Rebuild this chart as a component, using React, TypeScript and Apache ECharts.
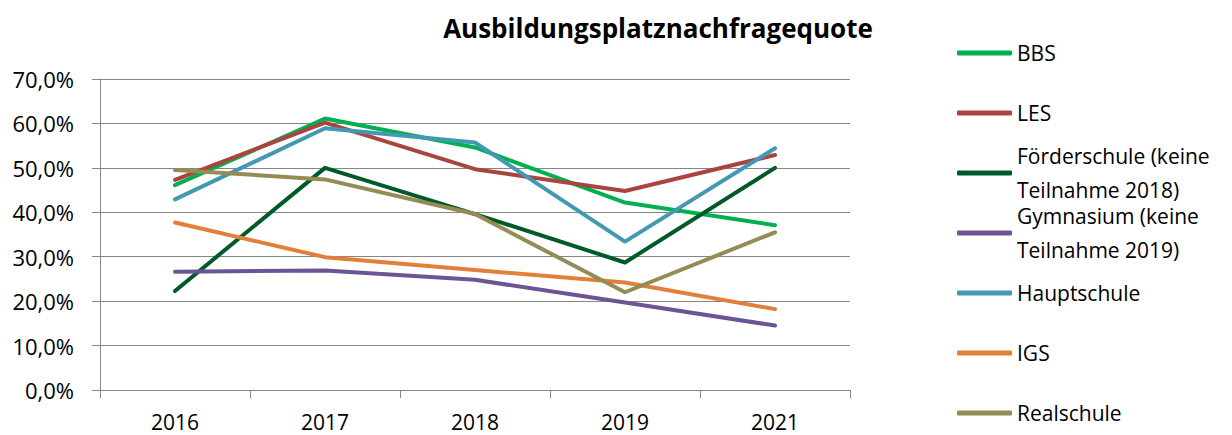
import React, { useEffect, useRef } from "react";
import * as echarts from "echarts";

const years = ["2016", "2017", "2018", "2019", "2021"];
const seriesNames = [
  "BBS",
  "LES",
  "Förderschule (keine Teilnahme 2018)",
  "Gymnasium (keine Teilnahme 2019)",
  "Hauptschule",
  "IGS",
  "Realschule",
];
const bbs = [46.1, 61.1, 54.6, 42.2, 37.1];
const les = [47.3, 60.2, 49.7, 44.8, 52.9];
const foerderschule = [22.3, 50.0, 39.6, 28.7, 50.0];
const gymnasium = [26.6, 26.9, 24.8, 19.7, 14.5];
const hauptschule = [42.9, 58.9, 55.7, 33.4, 54.4];
const igs = [37.7, 29.9, 27.0, 24.2, 18.2];
const realschule = [49.5, 47.4, 39.6, 22.0, 35.5];
const seriesValues = [bbs, les, foerderschule, gymnasium, hauptschule, igs, realschule];
const colors = ["#00B050", "#A9443F", "#005A28", "#6C5594", "#4399B3", "#E0803A", "#948B55"];

const FONT = "Open Sans";

export default function App() {
  const ref = useRef<HTMLDivElement>(null);
  useEffect(() => {
    if (!ref.current) return;
    const chart = echarts.init(ref.current, null, { renderer: "svg" });
    const LH = 34;
    chart.setOption({
      animation: false,
      backgroundColor: "#ffffff",
      color: colors,
      title: {
        text: "Ausbildungsplatznachfragequote",
        left: 653,
        textAlign: "center",
        top: 10,
        textStyle: { fontFamily: FONT, fontWeight: "bold", fontSize: 26, color: "#000" },
      },
      grid: { left: 100, right: 382, top: 79, bottom: 45, containLabel: false },
      legend: {
        orient: "vertical",
        left: 957,
        top: 2,
        height: 600,
        padding: 0,
        itemGap: -42,
        itemWidth: 55,
        itemHeight: 5,
        icon: "roundRect",
        selectedMode: false,
        formatter: (name: string) => name.replace(" Teilnahme", "\nTeilnahme"),
        textStyle: { fontFamily: FONT, fontSize: 21, color: "#000", lineHeight: LH, padding: [LH, 0, LH, 0] },
        data: seriesNames.map((n) =>
          n.includes("Teilnahme") ? { name: n, textStyle: { padding: [LH, 0, 0, 0] } } : { name: n }
        ),
      },
      xAxis: {
        type: "category",
        data: years,
        boundaryGap: true,
        axisLine: { show: true, lineStyle: { color: "#868686", width: 1 } },
        axisTick: { show: true, length: 8, lineStyle: { color: "#868686" } },
        axisLabel: { fontFamily: FONT, fontSize: 21, lineHeight: 22, color: "#000", margin: 21 },
        splitLine: { show: false },
      },
      yAxis: {
        type: "value",
        min: 0,
        max: 70,
        interval: 10,
        axisLine: { show: true, lineStyle: { color: "#868686", width: 1 } },
        axisTick: { show: true, length: 8, lineStyle: { color: "#868686" } },
        axisLabel: {
          fontFamily: FONT,
          fontSize: 22,
          color: "#000",
          margin: 26,
          formatter: (v: number) => v.toFixed(1).replace(".", ",") + "%",
        },
        splitLine: { show: true, lineStyle: { color: "#868686", width: 1 } },
      },
      series: seriesNames.map((name, i) => ({
        name,
        type: "line",
        data: seriesValues[i],
        symbol: "none",
        lineStyle: { width: 4, color: colors[i], cap: "round", join: "round" },
        itemStyle: { color: colors[i] },
      })),
    });
    return () => chart.dispose();
  }, []);
  return (
    <div
      ref={ref}
      style={{ position: "fixed", left: 0, top: 0, width: 1232, height: 435 }}
    />
  );
}
